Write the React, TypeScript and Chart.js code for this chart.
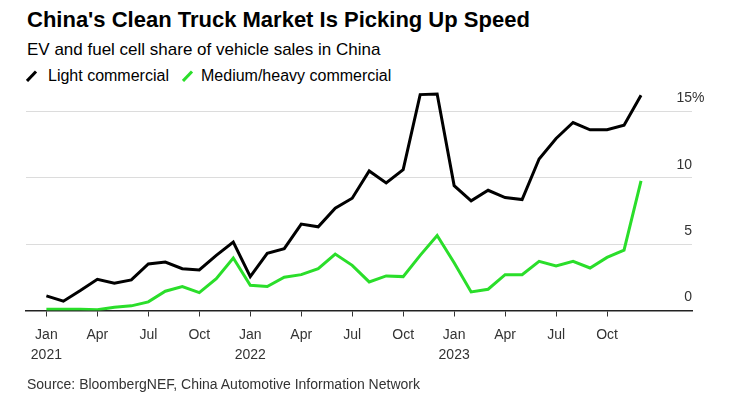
import React, { useEffect, useRef } from 'react';
import { Chart, registerables } from 'chart.js';

Chart.register(...registerables);

// data, Jan 2021 .. Dec 2023 (percent of sales)
const months = ['Jan', 'Feb', 'Mar', 'Apr', 'May', 'Jun', 'Jul', 'Aug', 'Sep', 'Oct', 'Nov', 'Dec'];
const years = ['2021', '2022', '2023'];
const lightCommercial = [
  1.1, 0.7, 1.5, 2.35, 2.05, 2.3, 3.5, 3.65, 3.15, 3.05, 4.15, 5.15,
  2.55, 4.3, 4.65, 6.5, 6.3, 7.7, 8.45, 10.5, 9.6, 10.6, 16.25, 16.3,
  9.4, 8.25, 9.05, 8.5, 8.35, 11.4, 12.95, 14.15, 13.6, 13.6, 13.95, 16.2,
];
const mediumHeavy = [
  0.1, 0.1, 0.1, 0.05, 0.25, 0.35, 0.65, 1.45, 1.8, 1.35, 2.4, 3.95,
  1.9, 1.8, 2.5, 2.7, 3.15, 4.25, 3.4, 2.15, 2.6, 2.55, 4.15, 5.65,
  3.6, 1.4, 1.6, 2.7, 2.7, 3.7, 3.35, 3.7, 3.2, 4.0, 4.55, 9.75,
];
const xTickIndex = [0, 3, 6, 9, 12, 15, 18, 21, 24, 27, 30, 33];
const yTicks = [0, 5, 10, 15];

const FONT = '"Liberation Sans", Arial, sans-serif';
const GREEN = '#2ade2a';

// y labels sit above their gridlines, right-aligned to the plot edge
const yLabels = {
  id: 'yLabels',
  afterDraw(chart) {
    const { ctx, chartArea } = chart;
    const y = chart.scales.y;
    ctx.save();
    ctx.font = `14px ${FONT}`;
    ctx.fillStyle = '#333';
    ctx.textBaseline = 'middle';
    yTicks.forEach((v, i) => {
      const py = y.getPixelForValue(v) - 13;
      ctx.textAlign = 'right';
      ctx.fillText(String(v), chartArea.right, py);
      if (i === yTicks.length - 1) {
        ctx.textAlign = 'left';
        ctx.fillText('%', chartArea.right, py);
      }
    });
    ctx.restore();
  },
};

const LegendMark = ({ color }) => (
  <svg width="12" height="12" style={{ position: 'absolute', top: 0, left: 0 }}>
    <line x1="1" y1="11" x2="10" y2="1.5" stroke={color} strokeWidth="3" />
  </svg>
);

const App = () => {
  const canvasRef = useRef(null);

  useEffect(() => {
    Chart.defaults.font.family = FONT;
    const chart = new Chart(canvasRef.current, {
      type: 'line',
      data: {
        datasets: [
          {
            label: 'Light commercial',
            data: lightCommercial.map((v, i) => ({ x: i, y: v })),
            borderColor: '#000',
            borderWidth: 3,
            pointRadius: 0,
          },
          {
            label: 'Medium/heavy commercial',
            data: mediumHeavy.map((v, i) => ({ x: i, y: v })),
            borderColor: GREEN,
            borderWidth: 3,
            pointRadius: 0,
          },
        ],
      },
      options: {
        animation: false,
        responsive: true,
        maintainAspectRatio: false,
        layout: { padding: { left: 26, top: 78, right: 0, bottom: 0 } },
        plugins: { legend: { display: false }, tooltip: { enabled: false } },
        scales: {
          x: {
            type: 'linear',
            min: -1.2,
            max: 38,
            afterBuildTicks: (s) => {
              s.ticks = xTickIndex.map((v) => ({ value: v }));
            },
            afterFit: (s) => {
              s.height = 94.5;
            },
            grid: { drawOnChartArea: false, drawTicks: true, tickLength: 6, color: '#333', lineWidth: 1 },
            border: { display: true, color: '#222', width: 1.5 },
            ticks: {
              color: '#333',
              font: { size: 14, lineHeight: 1.45 },
              padding: 8,
              maxRotation: 0,
              autoSkip: false,
              callback: (v) => (v % 12 === 0 ? [months[v % 12], years[v / 12]] : months[v % 12]),
            },
          },
          y: {
            position: 'right',
            min: 0,
            max: 17.5,
            afterBuildTicks: (s) => {
              s.ticks = yTicks.map((v) => ({ value: v }));
            },
            afterFit: (s) => {
              s.width = 51;
            },
            grid: { color: '#dcdcdc', drawTicks: false, lineWidth: 1 },
            border: { display: false },
            ticks: { display: false },
          },
        },
      },
      plugins: [yLabels],
    });
    return () => chart.destroy();
  }, []);

  const text = { position: 'absolute', whiteSpace: 'nowrap', fontFamily: FONT, margin: 0 };

  return (
    <div style={{ position: 'absolute', left: 0, top: 0, width: 743, height: 405, background: '#fff', overflow: 'hidden' }}>
      <div style={{ ...text, left: 27, top: 9, fontSize: 22, lineHeight: '22px', fontWeight: 'bold', color: '#000' }}>
        China's Clean Truck Market Is Picking Up Speed
      </div>
      <div style={{ ...text, left: 27, top: 41, fontSize: 17, lineHeight: '17px', color: '#000' }}>
        EV and fuel cell share of vehicle sales in China
      </div>
      <div style={{ ...text, left: 26, top: 70, width: 12, height: 12 }}>
        <LegendMark color="#000" />
      </div>
      <div style={{ ...text, left: 48, top: 68, fontSize: 16, lineHeight: '16px', color: '#000' }}>
        Light commercial
      </div>
      <div style={{ ...text, left: 182, top: 70, width: 12, height: 12 }}>
        <LegendMark color={GREEN} />
      </div>
      <div style={{ ...text, left: 201, top: 68, fontSize: 16, lineHeight: '16px', color: '#000' }}>
        Medium/heavy commercial
      </div>
      <div style={{ position: 'absolute', left: 0, top: 0, width: 743, height: 405 }}>
        <canvas ref={canvasRef} />
      </div>
      <div style={{ ...text, left: 27, top: 377, fontSize: 14, lineHeight: '14px', color: '#333' }}>
        Source: BloombergNEF, China Automotive Information Network
      </div>
    </div>
  );
};

export default App;
